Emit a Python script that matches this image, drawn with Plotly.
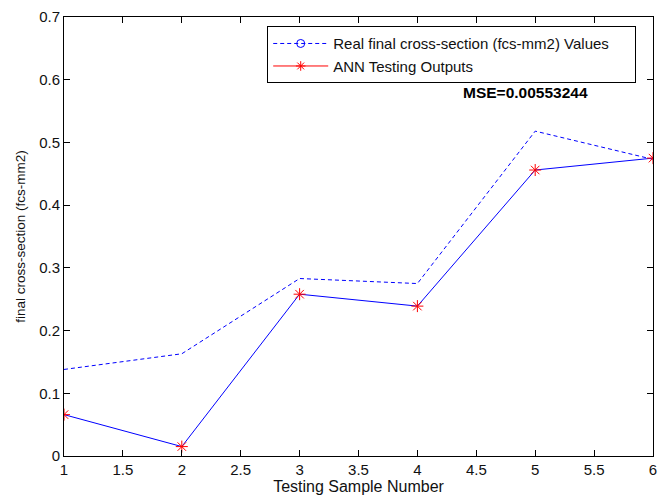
import plotly.graph_objects as go

samples = [1, 2, 3, 4, 5, 6]
real_values = [0.138, 0.163, 0.283, 0.275, 0.518, 0.473]
ann_outputs = [0.066, 0.015, 0.258, 0.239, 0.456, 0.475]
x_ticks = [1, 1.5, 2, 2.5, 3, 3.5, 4, 4.5, 5, 5.5, 6]
y_ticks = [0, 0.1, 0.2, 0.3, 0.4, 0.5, 0.6, 0.7]
mse_text = "MSE=0.00553244"

fig = go.Figure()
# Real values (dashed blue)
fig.add_trace(go.Scatter(x=samples, y=real_values, mode="lines",
                         line=dict(color="#0000ff", width=1, dash="4px,3px"),
                         showlegend=False))
# ANN line (blue solid)
fig.add_trace(go.Scatter(x=samples, y=ann_outputs, mode="lines",
                         line=dict(color="#0000ff", width=1),
                         showlegend=False))
# ANN markers (red asterisks)
fig.add_trace(go.Scatter(x=samples, y=ann_outputs, mode="markers",
                         marker=dict(symbol="asterisk-open", size=10, color="#ff0000",
                                     line=dict(color="#ff0000", width=1)),
                         showlegend=False))
# Legend entries
fig.add_trace(go.Scatter(x=[None], y=[None], mode="lines+markers",
                         name="Real final cross-section (fcs-mm2) Values&nbsp;&nbsp;&nbsp;&nbsp;&nbsp;",
                         line=dict(color="#0000ff", width=1, dash="4px,3px"),
                         marker=dict(symbol="circle-open", size=8, color="#0000ff",
                                     line=dict(color="#0000ff", width=1))))
fig.add_trace(go.Scatter(x=[None], y=[None], mode="lines+markers",
                         name="ANN Testing Outputs",
                         line=dict(color="#ff0000", width=1),
                         marker=dict(symbol="asterisk-open", size=8, color="#ff0000",
                                     line=dict(color="#ff0000", width=1))))

fig.add_annotation(x=4.92, y=0.579, xref="x", yref="y", text="<b>" + mse_text + "</b>",
                   showarrow=False, font=dict(size=15.5, color="#000000"))

axis_common = dict(showline=True, linecolor="#000000", linewidth=1, mirror="allticks",
                   ticks="inside", ticklen=6, tickcolor="#000000", showgrid=False,
                   zeroline=False, tickfont=dict(size=15, color="#111111"))

fig.update_layout(
    width=659, height=490,
    margin=dict(l=56, r=14, t=9, b=42, autoexpand=False),
    paper_bgcolor="#ffffff", plot_bgcolor="#ffffff",
    font=dict(family="Liberation Sans, Arial, sans-serif", size=14, color="#111111"),
    xaxis=dict(range=[1, 6], tickvals=x_ticks,
               ticktext=[("%g" % v) for v in x_ticks],
               title=dict(text="Testing Sample Number", standoff=3, font=dict(size=16)),
               **axis_common),
    yaxis=dict(range=[0, 0.7], tickvals=y_ticks,
               ticktext=[("%g" % v) for v in y_ticks],
               title=dict(text="final cross-section (fcs-mm2)", standoff=10, font=dict(size=13.5)),
               **axis_common),
    legend=dict(x=0.345, y=0.979, xanchor="left", yanchor="top",
                bordercolor="#000000", borderwidth=1, bgcolor="#ffffff",
                font=dict(size=15), tracegroupgap=0, itemwidth=55),
)

fig.write_html("out.html")
